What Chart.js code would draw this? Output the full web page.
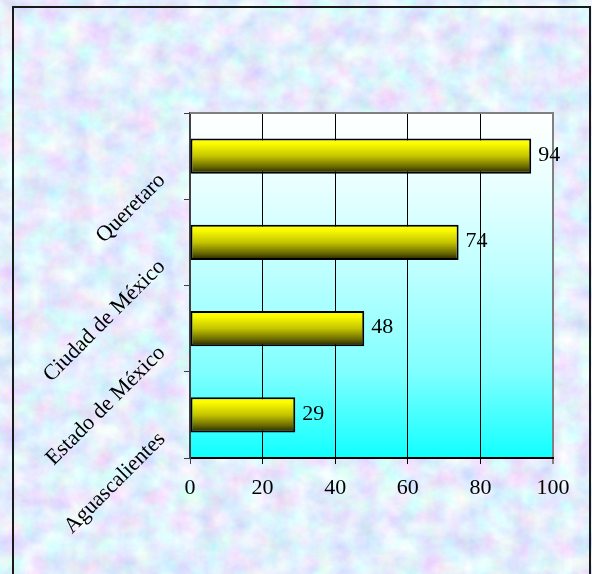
<!DOCTYPE html>
<html>
<head>
<meta charset="utf-8">
<script src="https://cdn.jsdelivr.net/npm/chart.js@4/dist/chart.umd.min.js"></script>
<style>
    html, body {
        margin: 0;
        padding: 0;
        width: 592px;
        height: 574px;
        overflow: hidden;
    }
    body {
        position: relative;
        background-color: #d0dcf5;
        background-image: url("data:image/svg+xml;utf8,<svg xmlns='http://www.w3.org/2000/svg' width='592' height='574'><filter id='n'><feTurbulence type='fractalNoise' baseFrequency='0.045' numOctaves='4' seed='3'/><feColorMatrix values='0.55 0 0 0 0.5  0 0.55 0 0 0.58  0 0 0.25 0 0.85  0 0 0 0 1'/></filter><rect width='592' height='574' filter='url(%23n)'/></svg>");
    }
    #frame {
        position: absolute;
        left: 12px;
        top: 6px;
        width: 575px;
        height: 620px;
        border: 2px solid #1a1a1a;
    }
    #chart {
        position: absolute;
        left: 0;
        top: 0;
    }
</style>
</head>
<body>
<div id="frame"></div>
<canvas id="chart" width="592" height="574"></canvas>
<script>
    // Data
    const categories = ['Queretaro', 'Ciudad de México', 'Estado de México', 'Aguascalientes'];
    const values = [94, 74, 48, 29];
    const axisMin = 0;
    const axisMax = 100;
    const axisStep = 20;

    const serif = "'Times New Roman', 'Liberation Serif', serif";
    const barPct = 0.41;

    // Gradient behind the plot area (white on top, cyan at the bottom)
    const plotBackground = {
        id: 'plotBackground',
        beforeDraw(chart) {
            const {ctx, chartArea} = chart;
            const g = ctx.createLinearGradient(0, chartArea.top, 0, chartArea.bottom);
            g.addColorStop(0, '#ffffff');
            g.addColorStop(0.2, '#eaffff');
            g.addColorStop(0.45, '#c0ffff');
            g.addColorStop(0.75, '#80ffff');
            g.addColorStop(1, '#10ffff');
            ctx.save();
            ctx.fillStyle = g;
            ctx.fillRect(chartArea.left, chartArea.top, chartArea.right - chartArea.left, chartArea.bottom - chartArea.top);
            ctx.restore();
        },
        afterDraw(chart) {
            // grey top border of the plot
            const {ctx, chartArea} = chart;
            ctx.save();
            ctx.strokeStyle = '#808080';
            ctx.lineWidth = 2;
            ctx.beginPath();
            ctx.moveTo(chartArea.left, chartArea.top);
            ctx.lineTo(chartArea.right + 1, chartArea.top);
            ctx.stroke();
            ctx.restore();
        }
    };

    // Value next to the end of each bar
    const valueLabels = {
        id: 'valueLabels',
        afterDatasetsDraw(chart) {
            const {ctx} = chart;
            const meta = chart.getDatasetMeta(0);
            ctx.save();
            ctx.font = '22px ' + serif;
            ctx.fillStyle = '#000';
            ctx.textAlign = 'left';
            ctx.textBaseline = 'middle';
            meta.data.forEach(function(bar, i) {
                ctx.fillText(String(values[i]), bar.x + 7, bar.y - 1);
            });
            ctx.restore();
        }
    };

    // Yellow to dark cylinder-like fill for each bar
    function barFill(context) {
        const chart = context.chart;
        const yScale = chart.scales.y;
        if (!yScale || !chart.chartArea) return '#ffff00';
        const center = yScale.getPixelForValue(context.dataIndex);
        const half = (yScale.height / categories.length) * barPct / 2;
        const g = chart.ctx.createLinearGradient(0, center - half, 0, center + half);
        g.addColorStop(0, '#ffff00');
        g.addColorStop(0.15, '#fcfc00');
        g.addColorStop(0.5, '#c4c400');
        g.addColorStop(0.8, '#6a6a00');
        g.addColorStop(1, '#1e1e00');
        return g;
    }

    new Chart(document.getElementById('chart'), {
        type: 'bar',
        data: {
            labels: categories,
            datasets: [{
                data: values,
                backgroundColor: barFill,
                borderColor: '#000000',
                borderWidth: 2,
                borderSkipped: false,
                barPercentage: barPct,
                categoryPercentage: 1.0
            }]
        },
        options: {
            indexAxis: 'y',
            responsive: false,
            animation: false,
            layout: {
                padding: { top: 113, right: 39, left: 0, bottom: 0 }
            },
            plugins: {
                legend: { display: false },
                tooltip: { enabled: false }
            },
            scales: {
                x: {
                    min: axisMin,
                    max: axisMax,
                    afterFit: function(scale) { scale.height = 116; },
                    ticks: {
                        stepSize: axisStep,
                        color: '#000',
                        padding: 11,
                        font: { family: serif, size: 22 }
                    },
                    grid: {
                        color: function(ctx) {
                            if (ctx.index === 0) return '#404040';
                            if (ctx.index === 5) return '#808080';
                            return '#000000';
                        },
                        lineWidth: function(ctx) {
                            return ctx.index === 5 ? 2 : 1;
                        },
                        tickLength: 6
                    },
                    border: { color: '#000000', width: 2 }
                },
                y: {
                    afterFit: function(scale) { scale.width = 190; },
                    ticks: {
                        color: '#000',
                        minRotation: 45,
                        maxRotation: 45,
                        labelOffset: 21,
                        padding: 22,
                        font: { family: serif, size: 22 }
                    },
                    grid: {
                        drawOnChartArea: false,
                        color: '#404040',
                        tickLength: 6
                    },
                    border: { color: '#404040', width: 2 }
                }
            }
        },
        plugins: [plotBackground, valueLabels]
    });
</script>
</body>
</html>
